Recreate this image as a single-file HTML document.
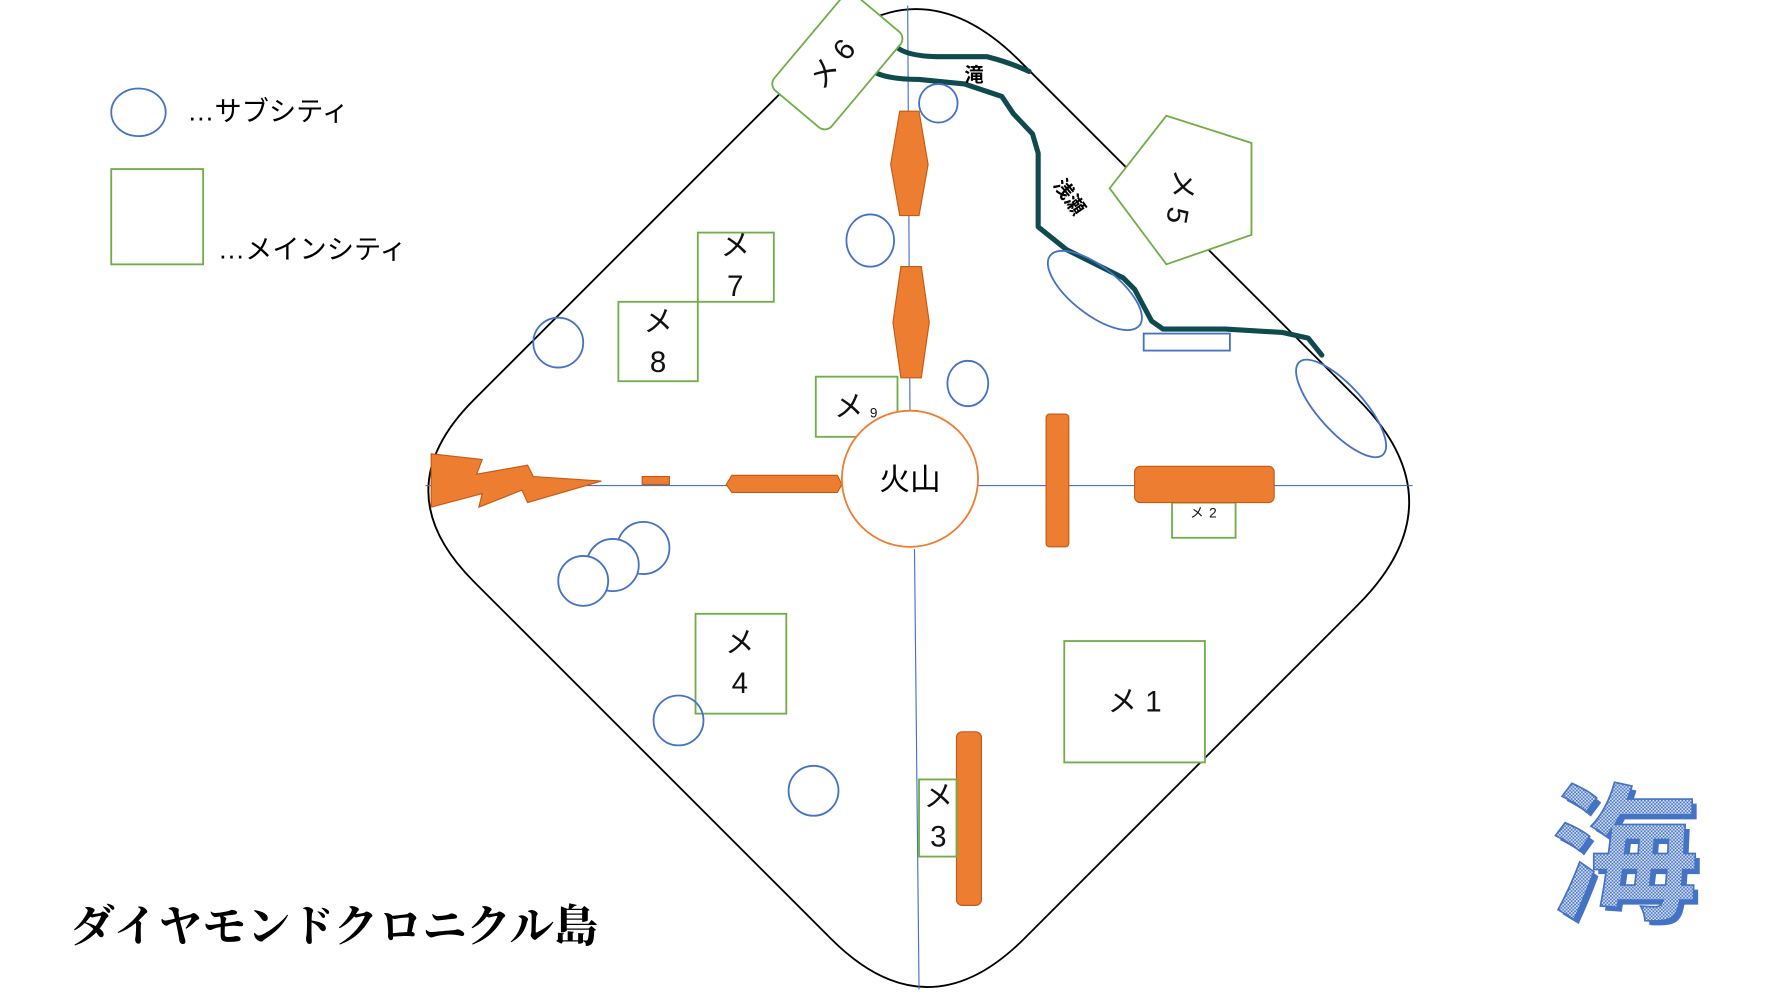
<!DOCTYPE html>
<html><head><meta charset="utf-8"><style>
html,body{margin:0;padding:0;background:#fff;}
svg{display:block;}
text{font-family:"Liberation Sans","Noto Sans CJK JP",sans-serif;}
</style></head><body>
<svg width="1770" height="995" viewBox="0 0 1560 877" xmlns="http://www.w3.org/2000/svg">
<defs>
<pattern id="dots" width="3" height="3" patternUnits="userSpaceOnUse">
<rect width="3" height="3" fill="#dfe7f6"/><rect width="1.5" height="1.5" fill="#4472c4"/><rect x="1.5" y="1.5" width="1.5" height="1.5" fill="#4472c4"/>
</pattern>
</defs>
<!-- island -->
<path d="M417.5,352.5 L716.5,53.5 Q807.5,-37.5 898.5,53.5 L1196.5,351.5 Q1287.5,442.5 1196.5,533.5 L902.5,827.5 Q817.5,912.5 732.5,827.5 L417.5,512.5 Q337.5,432.5 417.5,352.5 Z" fill="none" stroke="#000" stroke-width="1.6"/>
<!-- axes -->
<line x1="800" y1="5" x2="802" y2="362" stroke="#4472c4" stroke-width="1"/>
<line x1="806" y1="484" x2="810" y2="872" stroke="#4472c4" stroke-width="1"/>
<line x1="375" y1="428" x2="742" y2="428" stroke="#4472c4" stroke-width="1"/>
<line x1="862" y1="428" x2="1245" y2="428" stroke="#4472c4" stroke-width="1"/>
<!-- river -->
<g fill="none" stroke="#0f4a4e" stroke-width="4.5" stroke-linecap="round" stroke-linejoin="round">
<path d="M787,38 Q795,50 830,50 L870,50 Q890,55 907,63"/>
<path d="M768,62 Q780,70 810,70 L850,74 L883,85 L893,100 L910,118 L915,135 L915,200 L940,220 L990,245 L1000,255 L1015,283 L1025,290 L1080,290 L1130,293 L1153,298 L1165,313"/>
</g>
<text x="850" y="72" font-size="17" font-weight="bold">滝</text>
<text x="0" y="0" font-size="17" font-weight="bold" transform="translate(928,163) rotate(55)">浅瀬</text>
<!-- orange shapes -->
<g fill="#ed7d31" stroke="#c55a11" stroke-width="1">
<polygon points="793,98 810,98 818,145 810,190 793,190 785,145"/>
<polygon points="794,235 812,235 819,284 812,333 794,333 787,284"/>
<polygon points="645,419 738,419 742,427 738,434 645,434 640,427"/>
<rect x="566" y="420" width="24" height="7"/>
<polygon points="380,400 425,405 420,418 465,410 470,420 530,424 465,443 460,432 422,447 425,435 380,447"/>
<rect x="922" y="365" width="20" height="117" rx="3"/>
<rect x="843" y="645" width="22" height="153" rx="5"/>
</g>
<!-- green cities -->
<g fill="#fff" stroke="#70ad47" stroke-width="1.6">
<rect x="615" y="205" width="67" height="61"/>
<rect x="545" y="266" width="70" height="70"/>
<rect x="719" y="332" width="72" height="53"/>
<rect x="1033" y="443" width="56" height="31"/>
<rect x="613" y="541" width="80" height="88"/>
<rect x="938" y="565" width="124" height="107"/>
<rect x="810" y="687" width="33" height="68"/>
<rect x="-33" y="-55" width="66" height="110" rx="8" transform="translate(738,54) rotate(40)"/>
<polygon points="1028,102 1103,126 1103,207 1028,233 978,166"/>
</g>
<circle cx="802" cy="422" r="60" fill="#fff" stroke="#ed7d31" stroke-width="1.6"/>
<text x="802" y="432" font-size="27" text-anchor="middle">火山</text>
<rect x="1000" y="411" width="123" height="32" rx="5" fill="#ed7d31" stroke="#c55a11"/>
<g font-size="26" text-anchor="middle" fill="#111">
<text x="648" y="225">メ</text><text x="648" y="261">7</text>
<text x="580" y="292">メ</text><text x="580" y="328">8</text>
<text x="748" y="367">メ</text><text x="770" y="368" font-size="12">9</text>
<text x="1055" y="456" font-size="12">メ</text><text x="1069" y="456" font-size="12">2</text>
<text x="652" y="575">メ</text><text x="652" y="611">4</text>
<text x="1000" y="627">メ 1</text>
<text x="827" y="711">メ</text><text x="827" y="746">3</text>
<text transform="translate(740,62) rotate(-50)">メ 6</text>
<text transform="translate(1032,172) rotate(100)">メ 5</text>
</g>
<!-- sub cities -->
<g fill="none" stroke="#4472c4" stroke-width="1.6">
<circle cx="827" cy="91" r="17"/>
<ellipse cx="767" cy="212" rx="21" ry="23"/>
<circle cx="492" cy="302" r="22"/>
<ellipse cx="853" cy="338" rx="18" ry="20"/>
<circle cx="567" cy="483" r="23" fill="#fff"/>
<circle cx="540" cy="498" r="23" fill="#fff"/>
<circle cx="514" cy="512" r="22" fill="#fff"/>
<circle cx="598" cy="635" r="22"/>
<circle cx="717" cy="697" r="22"/>
<ellipse cx="965" cy="256" rx="50" ry="21" transform="rotate(38 965 256)"/>
<ellipse cx="1182" cy="360" rx="55" ry="20" transform="rotate(48 1182 360)"/>
<rect x="1008" y="294" width="76" height="15"/>
</g>
<!-- legend -->
<ellipse cx="122" cy="99" rx="24" ry="21" fill="none" stroke="#4472c4" stroke-width="1.6"/>
<text x="165" y="106" font-size="24">…サブシティ</text>
<rect x="98" y="149" width="81" height="84" fill="none" stroke="#70ad47" stroke-width="1.6"/>
<text x="192" y="228" font-size="24">…メインシティ</text>
<text x="62" y="830" font-size="39" font-weight="bold" style="font-family:'Liberation Serif','Noto Serif CJK SC',serif;">ダイヤモンドクロニクル島</text>
<text x="1432" y="800" font-size="130" font-weight="bold" text-anchor="middle" fill="#4472c4" transform="translate(4,4)">海</text>
<text x="1432" y="800" font-size="130" font-weight="bold" text-anchor="middle" fill="url(#dots)" stroke="#4472c4" stroke-width="1.5">海</text>
</svg>
</body></html>
